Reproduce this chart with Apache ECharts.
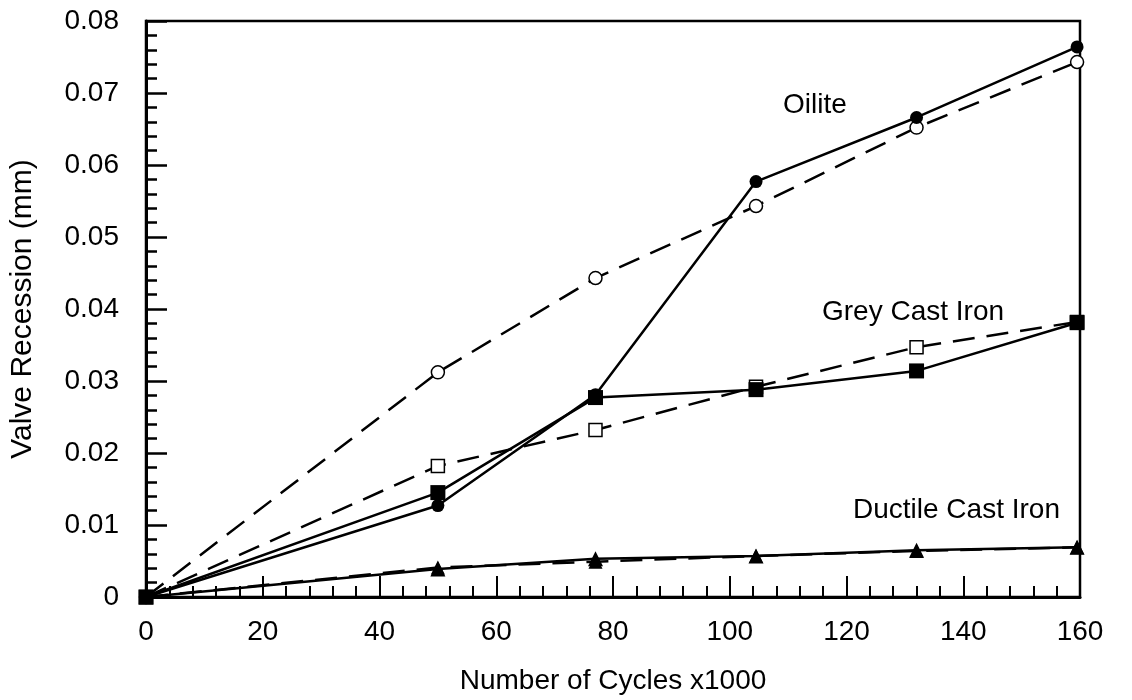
<!DOCTYPE html>
<html lang="en" style="height: 100%">
<head>
  <meta charset="utf-8">
</head>
<body style="height: 100%; margin: 0; background: #fff">
  <div id="container" style="height: 100%"></div>

  <script type="text/javascript" src="https://cdn.jsdelivr.net/npm/echarts@6/dist/echarts.min.js"></script>

  <script type="text/javascript">
    var dom = document.getElementById('container');
    var myChart = echarts.init(dom, null, { renderer: 'canvas' });

    // number of cycles (x1000) at each measurement
    const cycles = [0, 50, 77, 104.5, 132, 159.5];
    // valve recession (mm)
    const oiliteSolid = [0, 0.0127, 0.0281, 0.0577, 0.0666, 0.0764];
    const oiliteDashed = [0, 0.0312, 0.0443, 0.0543, 0.0652, 0.0743];
    const greySolid = [0, 0.0145, 0.0277, 0.0288, 0.0314, 0.0381];
    const greyDashed = [0, 0.0182, 0.0232, 0.0292, 0.0347, 0.0382];
    const ductileSolid = [0, 0.0039, 0.0053, 0.0057, 0.0065, 0.0069];
    const ductileDashed = [0, 0.0041, 0.0049, 0.0057, 0.0064, 0.0069];

    const FONT = 'Liberation Sans';
    const SIZE = 28;

    function pairs(ys) {
      return cycles.map((x, i) => [x, ys[i]]);
    }

    function line(name, ys, dashed, symbol, size, filled) {
      return {
        name: name,
        type: 'line',
        data: pairs(ys),
        symbol: symbol,
        symbolSize: size,
        showAllSymbol: true,
        lineStyle: {
          color: '#000',
          width: 2.5,
          type: dashed ? [22, 12] : 'solid'
        },
        itemStyle: {
          color: filled ? '#000' : '#fff',
          borderColor: '#000',
          borderWidth: filled ? 0 : 1.5
        },
        animation: false
      };
    }

    var option = {
      backgroundColor: '#fff',
      grid: {
        left: 145,
        right: 52,
        top: 21,
        bottom: 100,
        show: true,
        borderColor: '#000',
        borderWidth: 2.5
      },
      xAxis: {
        type: 'value',
        min: 0,
        max: 160,
        interval: 20,
        name: 'Number of Cycles x1000',
        nameLocation: 'middle',
        nameGap: 70,
        nameTextStyle: { fontFamily: FONT, fontSize: SIZE, color: '#000', verticalAlign: 'top' },
        axisLine: { lineStyle: { color: '#000', width: 3 } },
        axisTick: { inside: true, length: 21, lineStyle: { color: '#000', width: 2 } },
        minorTick: { show: true, splitNumber: 5, length: 11, lineStyle: { color: '#000', width: 2 } },
        axisLabel: { fontFamily: FONT, fontSize: SIZE, color: '#000', margin: 21 },
        splitLine: { show: false }
      },
      yAxis: {
        type: 'value',
        min: 0,
        max: 0.08,
        interval: 0.01,
        name: 'Valve Recession (mm)',
        nameLocation: 'middle',
        nameGap: 108,
        nameTextStyle: { fontFamily: FONT, fontSize: 30, color: '#000' },
        axisLine: { lineStyle: { color: '#000', width: 3 } },
        axisTick: { inside: true, length: 21, lineStyle: { color: '#000', width: 2.5 } },
        minorTick: { show: true, splitNumber: 5, length: 11, lineStyle: { color: '#000', width: 2.5 } },
        axisLabel: { fontFamily: FONT, fontSize: SIZE, color: '#000', margin: 27 },
        splitLine: { show: false }
      },
      graphic: [
        { type: 'text', left: 783, top: 91, style: { text: 'Oilite', font: SIZE + 'px "Liberation Sans"', fill: '#000' } },
        { type: 'text', left: 822, top: 298, style: { text: 'Grey Cast Iron', font: SIZE + 'px "Liberation Sans"', fill: '#000' } },
        { type: 'text', left: 853, top: 496, style: { text: 'Ductile Cast Iron', font: SIZE + 'px "Liberation Sans"', fill: '#000' } }
      ],
      series: [
        line('Oilite (dashed)', oiliteDashed, true, 'circle', 13, false),
        line('Grey Cast Iron (dashed)', greyDashed, true, 'rect', 13, false),
        line('Ductile Cast Iron (dashed)', ductileDashed, true, 'triangle', 14, true),
        line('Oilite', oiliteSolid, false, 'circle', 13, true),
        line('Grey Cast Iron', greySolid, false, 'rect', 15, true),
        line('Ductile Cast Iron', ductileSolid, false, 'triangle', 15, true)
      ]
    };

    myChart.setOption(option);
    window.addEventListener('resize', myChart.resize);
  </script>
</body>
</html>
